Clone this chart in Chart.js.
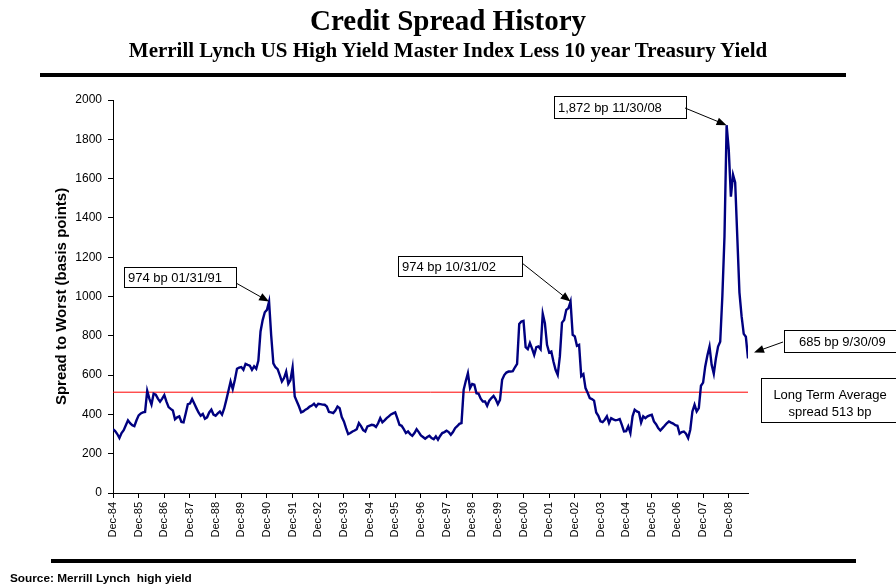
<!DOCTYPE html>
<html>
<head>
<meta charset="utf-8">
<title>Credit Spread History</title>
<script src="https://cdn.jsdelivr.net/npm/chart.js@4"></script>
<style>
  body { margin: 0; background: #fff; }
  #page { position: relative; width: 896px; height: 586px; overflow: hidden; font-family: Arial, "Liberation Sans", sans-serif; }
  #myChart { position: absolute; left: 0; top: 0; }
  .ttl { position: absolute; left: 0; width: 896px; text-align: center; font-family: "Times New Roman", "Liberation Serif", serif; font-weight: bold; color: #000; white-space: nowrap; }
  #t1 { top: 4px; font-size: 29px; }
  #t2 { top: 38px; font-size: 21px; }
  .rule { position: absolute; background: #000; }
  #r1 { left: 40px; top: 73px; width: 806px; height: 4px; }
  #r2 { left: 51px; top: 559px; width: 805px; height: 4px; }
  #src { position: absolute; left: 10px; top: 571px; font-size: 11.8px; font-weight: bold; color: #000; }
</style>
</head>
<body>
<div id="page">
  <canvas id="myChart" width="896" height="586"></canvas>
  <div class="ttl" id="t1">Credit Spread History</div>
  <div class="ttl" id="t2">Merrill Lynch US High Yield Master Index Less 10 year Treasury Yield</div>
  <div class="rule" id="r1"></div>
  <div class="rule" id="r2"></div>
  <div id="src">Source: Merrill Lynch&nbsp; high yield</div>
</div>
<script>
// monthly spread to worst (bp), Dec-84 .. Sep-09
const spreadBp = [
  325,                                                            // Dec-84
  315, 300, 280, 305, 320, 345, 370, 355, 345, 340, 370, 395,     // 1985
  405, 410, 412, 520, 480, 450, 505, 500, 480, 465, 480, 498,     // 1986
  465, 437, 428, 420, 375, 385, 390, 362, 360, 405, 452, 455,     // 1987
  478, 455, 432, 410, 393, 402, 378, 385, 410, 424, 399, 393,     // 1988
  405, 415, 399, 430, 474, 520, 567, 529, 576, 632, 638, 641,     // 1989
  627, 657, 652, 648, 627, 645, 632, 674, 822, 880, 920, 932,     // 1990
  974, 800, 660, 640, 630, 600, 568, 585, 618, 556, 575, 639,     // 1991
  491, 466, 440, 410, 415, 424, 430, 440, 445, 454, 440, 454,     // 1992
  452, 450, 449, 440, 412, 410, 407, 420, 440, 432, 386, 364,     // 1993
  330, 300, 305, 313, 318, 325, 356, 340, 320, 313, 339, 343,     // 1994
  347, 345, 336, 355, 381, 360, 370, 381, 390, 400, 405, 410,     // 1995
  380, 347, 342, 325, 305, 313, 300, 291, 305, 325, 310, 293,     // 1996
  285, 276, 285, 291, 280, 274, 288, 271, 290, 305, 310, 317,     // 1997
  310, 296, 310, 330, 340, 352, 356, 525, 570, 610, 534, 555,     // 1998
  551, 508, 505, 480, 466, 466, 444, 470, 483, 494, 477, 452,     // 1999
  474, 576, 600, 613, 618, 618, 620, 640, 657, 860, 873, 876,     // 2000
  742, 732, 763, 735, 703, 742, 746, 732, 912, 864, 754, 715,     // 2001
  720, 669, 627, 601, 695, 867, 881, 932, 940, 974, 805, 797,     // 2002
  749, 754, 595, 605, 534, 510, 483, 478, 470, 410, 393, 365,     // 2003
  361, 373, 390, 356, 381, 375, 370, 372, 376, 347, 313, 315,     // 2004
  339, 305, 390, 424, 415, 410, 359, 390, 381, 390, 395, 398,     // 2005
  364, 350, 330, 318, 330, 342, 355, 364, 358, 353, 345, 342,     // 2006
  302, 310, 313, 302, 280, 322, 415, 449, 415, 432, 546, 562,     // 2007
  644, 700, 745, 652, 607, 686, 745, 770, 1000, 1305, 1872, 1746, // 2008
  1508, 1619, 1580, 1300, 1020, 900, 810, 795, 685                // 2009
];
const avgSpread = 513;
const yTicks = [0, 200, 400, 600, 800, 1000, 1200, 1400, 1600, 1800, 2000];
const xTickLabels = ["Dec-84","Dec-85","Dec-86","Dec-87","Dec-88","Dec-89","Dec-90","Dec-91",
  "Dec-92","Dec-93","Dec-94","Dec-95","Dec-96","Dec-97","Dec-98","Dec-99","Dec-00","Dec-01",
  "Dec-02","Dec-03","Dec-04","Dec-05","Dec-06","Dec-07","Dec-08"];

// callouts: text, month index, value
const calloutText = ["974 bp 01/31/91", "974 bp 10/31/02", "1,872 bp 11/30/08", "685 bp 9/30/09"];
const calloutMonth = [73, 214, 287, 297];
const calloutValue = [974, 974, 1872, 685];
// layout of the boxes (x, y, w, h) and where the arrow leaves the box
const calloutBox = [[124, 267, 112, 20], [398, 256, 124, 20], [554, 96, 132, 22], [784, 330, 130, 22]];
const arrowFrom = [[236, 283], [522, 263], [685, 108], [783, 342]];
const tipShift = [[0, 0], [0, 0], [0, 0], [6, -6]];
const avgNote = ["Long Term Average", "spread 513 bp"];

const fontSans = 'Arial, "Liberation Sans", sans-serif';

const calloutPlugin = {
  id: "callouts",
  afterDatasetsDraw(chart) {
    const ctx = chart.ctx;
    const xs = chart.scales.x, ys = chart.scales.y;
    ctx.save();
    ctx.font = "13px " + fontSans;
    ctx.textBaseline = "middle";
    ctx.lineWidth = 1;
    ctx.strokeStyle = "#000";
    for (let i = 0; i < calloutText.length; i++) {
      const b = calloutBox[i];
      ctx.fillStyle = "#fff";
      ctx.fillRect(b[0] + 0.5, b[1] + 0.5, b[2], b[3]);
      ctx.strokeRect(b[0] + 0.5, b[1] + 0.5, b[2], b[3]);
      ctx.fillStyle = "#000";
      ctx.textAlign = "left";
      ctx.fillText(calloutText[i], b[0] + (i == 3 ? 15 : 4), b[1] + b[3] / 2 + 1);

      // arrow to the data point
      const tx = xs.getPixelForValue(calloutMonth[i]) + tipShift[i][0];
      const ty = ys.getPixelForValue(calloutValue[i]) + tipShift[i][1];
      const sx = arrowFrom[i][0], sy = arrowFrom[i][1];
      const ang = Math.atan2(ty - sy, tx - sx);
      ctx.beginPath();
      ctx.moveTo(sx, sy);
      ctx.lineTo(tx - 8 * Math.cos(ang), ty - 8 * Math.sin(ang));
      ctx.stroke();
      ctx.beginPath();
      ctx.moveTo(tx, ty);
      ctx.lineTo(tx - 10 * Math.cos(ang) + 4 * Math.sin(ang), ty - 10 * Math.sin(ang) - 4 * Math.cos(ang));
      ctx.lineTo(tx - 10 * Math.cos(ang) - 4 * Math.sin(ang), ty - 10 * Math.sin(ang) + 4 * Math.cos(ang));
      ctx.closePath();
      ctx.fill();
    }
    // long term average note
    ctx.fillStyle = "#fff";
    ctx.fillRect(761.5, 378.5, 150, 44);
    ctx.strokeRect(761.5, 378.5, 150, 44);
    ctx.fillStyle = "#000";
    ctx.textAlign = "center";
    ctx.fillText(avgNote[0], 830, 395);
    ctx.fillText(avgNote[1], 830, 412);
    ctx.restore();
  }
};

const spreadPoints = spreadBp.map((v, i) => ({ x: i, y: v }));
const lastMonth = spreadBp.length - 1;

const config = {
  type: "line",
  data: {
    datasets: [
      {
        label: "Long Term Average",
        data: [{ x: 0, y: avgSpread }, { x: lastMonth, y: avgSpread }],
        borderColor: "#ff0000",
        borderWidth: 1,
        pointRadius: 0,
        order: 2
      },
      {
        label: "Spread to Worst",
        data: spreadPoints,
        borderColor: "#000080",
        borderWidth: 2.4,
        pointRadius: 0,
        tension: 0,
        order: 1
      }
    ]
  },
  options: {
    responsive: false,
    animation: false,
    devicePixelRatio: 1,
    layout: { padding: { left: 49, top: 100, right: 148, bottom: 33 } },
    plugins: { legend: { display: false }, tooltip: { enabled: false } },
    scales: {
      x: {
        type: "linear",
        min: 0,
        max: lastMonth,
        afterFit: (s) => { s.height = 60; },
        grid: { drawOnChartArea: false, drawTicks: true, tickLength: 5, color: "#000" },
        border: { display: true, color: "#000", width: 1 },
        ticks: {
          stepSize: 12,
          includeBounds: false,
          autoSkip: false,
          minRotation: 90,
          maxRotation: 90,
          padding: 4,
          color: "#000",
          font: { family: fontSans, size: 11 },
          callback: (v) => xTickLabels[v / 12]
        }
      },
      y: {
        min: 0,
        max: 2000,
        afterFit: (s) => { s.width = 64; },
        afterBuildTicks: (s) => { s.ticks = yTicks.map((v) => ({ value: v })); },
        grid: { drawOnChartArea: false, drawTicks: true, tickLength: 5, color: "#000" },
        border: { display: true, color: "#000", width: 1 },
        ticks: { color: "#000", padding: 6, font: { family: fontSans, size: 12 }, callback: (v) => String(v) },
        title: {
          display: true,
          text: "Spread to Worst (basis points)",
          color: "#000",
          font: { family: fontSans, size: 15, weight: "bold" }
        }
      }
    }
  },
  plugins: [calloutPlugin]
};

window.myChart = new Chart(document.getElementById("myChart").getContext("2d"), config);
</script>
</body>
</html>
